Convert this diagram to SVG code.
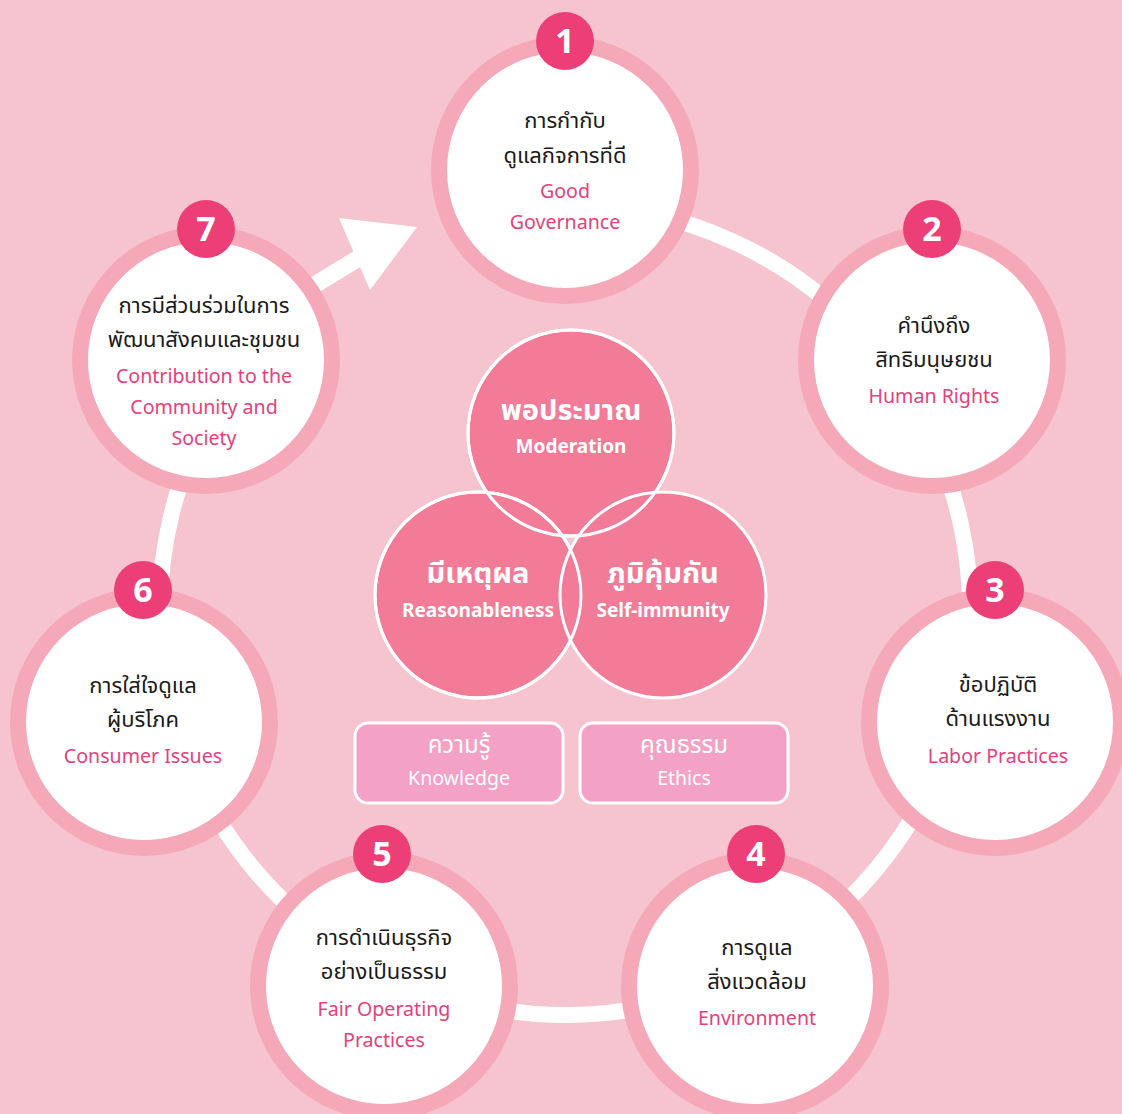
<svg xmlns="http://www.w3.org/2000/svg" width="1122" height="1114" viewBox="0 0 1122 1114">
<style>
.bg{fill:#F6C4CE}
.node{fill:#FFFFFF;stroke:#F5A8B8;stroke-width:16}
.badge{fill:#EC3F77}
.num{font-family:"Noto Sans","Open Sans",sans-serif;font-weight:700;font-size:34px;fill:#FFFFFF;text-anchor:middle}
.th{font-family:"Noto Sans Thai","Noto Sans","DejaVu Sans",sans-serif;font-size:22px;fill:#1A1A1A;text-anchor:middle}
.en{font-family:"Noto Sans","Open Sans",sans-serif;font-size:19.6px;fill:#E8407A;text-anchor:middle}
.venn{fill:#F27B98;stroke:#FFFFFF;stroke-width:3}
.vth{font-family:"Noto Sans Thai","Noto Sans","DejaVu Sans",sans-serif;font-weight:700;font-size:29px;fill:#FFFFFF;text-anchor:middle}
.ven{font-family:"Noto Sans","Open Sans",sans-serif;font-weight:700;font-size:19px;fill:#FFFFFF;text-anchor:middle}
.box{fill:#F4A1C6;stroke:#FFFFFF;stroke-width:3}
.bth{font-family:"Noto Sans Thai","Noto Sans","DejaVu Sans",sans-serif;font-size:24px;fill:#FFFFFF;text-anchor:middle}
.ben{font-family:"Noto Sans","Open Sans",sans-serif;font-size:19.5px;fill:#FFFFFF;text-anchor:middle}
</style>
<rect class="bg" x="0" y="0" width="1122" height="1114"/>
<g id="connectors">
<path d="M 565 205 A 405 405 0 1 1 246.4 360" fill="none" stroke="#FFFFFF" stroke-width="16"/>
<line x1="290" y1="300" x2="362" y2="256" stroke="#FFFFFF" stroke-width="17"/>
<polygon points="339,218 417,227 370,290" fill="#FFFFFF"/>
</g>
<g id="node1">
<circle class="node" cx="565" cy="170" r="126"/>
<circle class="badge" cx="565" cy="41" r="29"/>
<text class="num" x="565" y="53">1</text>
<text class="th" x="565" y="128">การกำกับ</text>
<text class="th" x="565" y="163">ดูแลกิจการที่ดี</text>
<text class="en" x="565" y="198">Good</text>
<text class="en" x="565" y="229">Governance</text>
</g>
<g id="node2">
<circle class="node" cx="932" cy="360" r="126"/>
<circle class="badge" cx="932" cy="229" r="29"/>
<text class="num" x="932" y="241">2</text>
<text class="th" x="934" y="333">คำนึงถึง</text>
<text class="th" x="934" y="367">สิทธิมนุษยชน</text>
<text class="en" x="934" y="403">Human Rights</text>
</g>
<g id="node3">
<circle class="node" cx="995" cy="722" r="126"/>
<circle class="badge" cx="995" cy="590" r="29"/>
<text class="num" x="995" y="602">3</text>
<text class="th" x="998" y="692">ข้อปฏิบัติ</text>
<text class="th" x="998" y="726">ด้านแรงงาน</text>
<text class="en" x="998" y="763">Labor Practices</text>
</g>
<g id="node4">
<circle class="node" cx="755" cy="986" r="126"/>
<circle class="badge" cx="756" cy="854" r="29"/>
<text class="num" x="756" y="866">4</text>
<text class="th" x="757" y="955">การดูแล</text>
<text class="th" x="757" y="989">สิ่งแวดล้อม</text>
<text class="en" x="757" y="1025">Environment</text>
</g>
<g id="node5">
<circle class="node" cx="384" cy="986" r="126"/>
<circle class="badge" cx="382" cy="854" r="29"/>
<text class="num" x="382" y="866">5</text>
<text class="th" x="384" y="945">การดำเนินธุรกิจ</text>
<text class="th" x="384" y="979">อย่างเป็นธรรม</text>
<text class="en" x="384" y="1016">Fair Operating</text>
<text class="en" x="384" y="1047">Practices</text>
</g>
<g id="node6">
<circle class="node" cx="144" cy="722" r="126"/>
<circle class="badge" cx="143" cy="590" r="29"/>
<text class="num" x="143" y="602">6</text>
<text class="th" x="143" y="693">การใส่ใจดูแล</text>
<text class="th" x="143" y="727">ผู้บริโภค</text>
<text class="en" x="143" y="763">Consumer Issues</text>
</g>
<g id="node7">
<circle class="node" cx="206" cy="360" r="126"/>
<circle class="badge" cx="206" cy="229" r="29"/>
<text class="num" x="206" y="241">7</text>
<text class="th" x="204" y="313">การมีส่วนร่วมในการ</text>
<text class="th" x="204" y="347">พัฒนาสังคมและชุมชน</text>
<text class="en" x="204" y="383">Contribution to the</text>
<text class="en" x="204" y="414">Community and</text>
<text class="en" x="204" y="445">Society</text>
</g>
<g id="venn-moderation">
<circle class="venn" cx="571" cy="433" r="103"/>
</g>
<g id="venn-reason">
<circle class="venn" cx="478" cy="595" r="103"/>
</g>
<g id="venn-immunity">
<circle class="venn" cx="663" cy="595" r="103"/>
</g>
<g id="venn-outlines" fill="none" stroke="#FFFFFF" stroke-width="3">
<circle cx="571" cy="433" r="103"/>
<circle cx="478" cy="595" r="103"/>
</g>
<g id="venn-labels">
<text class="vth" x="571" y="420">พอประมาณ</text>
<text class="ven" x="571" y="453">Moderation</text>
<text class="vth" x="478" y="583">มีเหตุผล</text>
<text class="ven" x="478" y="617">Reasonableness</text>
<text class="vth" x="663" y="583">ภูมิคุ้มกัน</text>
<text class="ven" x="663" y="617">Self-immunity</text>
</g>
<g id="knowledge">
<rect class="box" x="355" y="723" width="208" height="80" rx="13"/>
<text class="bth" x="459" y="753">ความรู้</text>
<text class="ben" x="459" y="785">Knowledge</text>
</g>
<g id="ethics">
<rect class="box" x="580" y="723" width="208" height="80" rx="13"/>
<text class="bth" x="684" y="753">คุณธรรม</text>
<text class="ben" x="684" y="785">Ethics</text>
</g>
</svg>
